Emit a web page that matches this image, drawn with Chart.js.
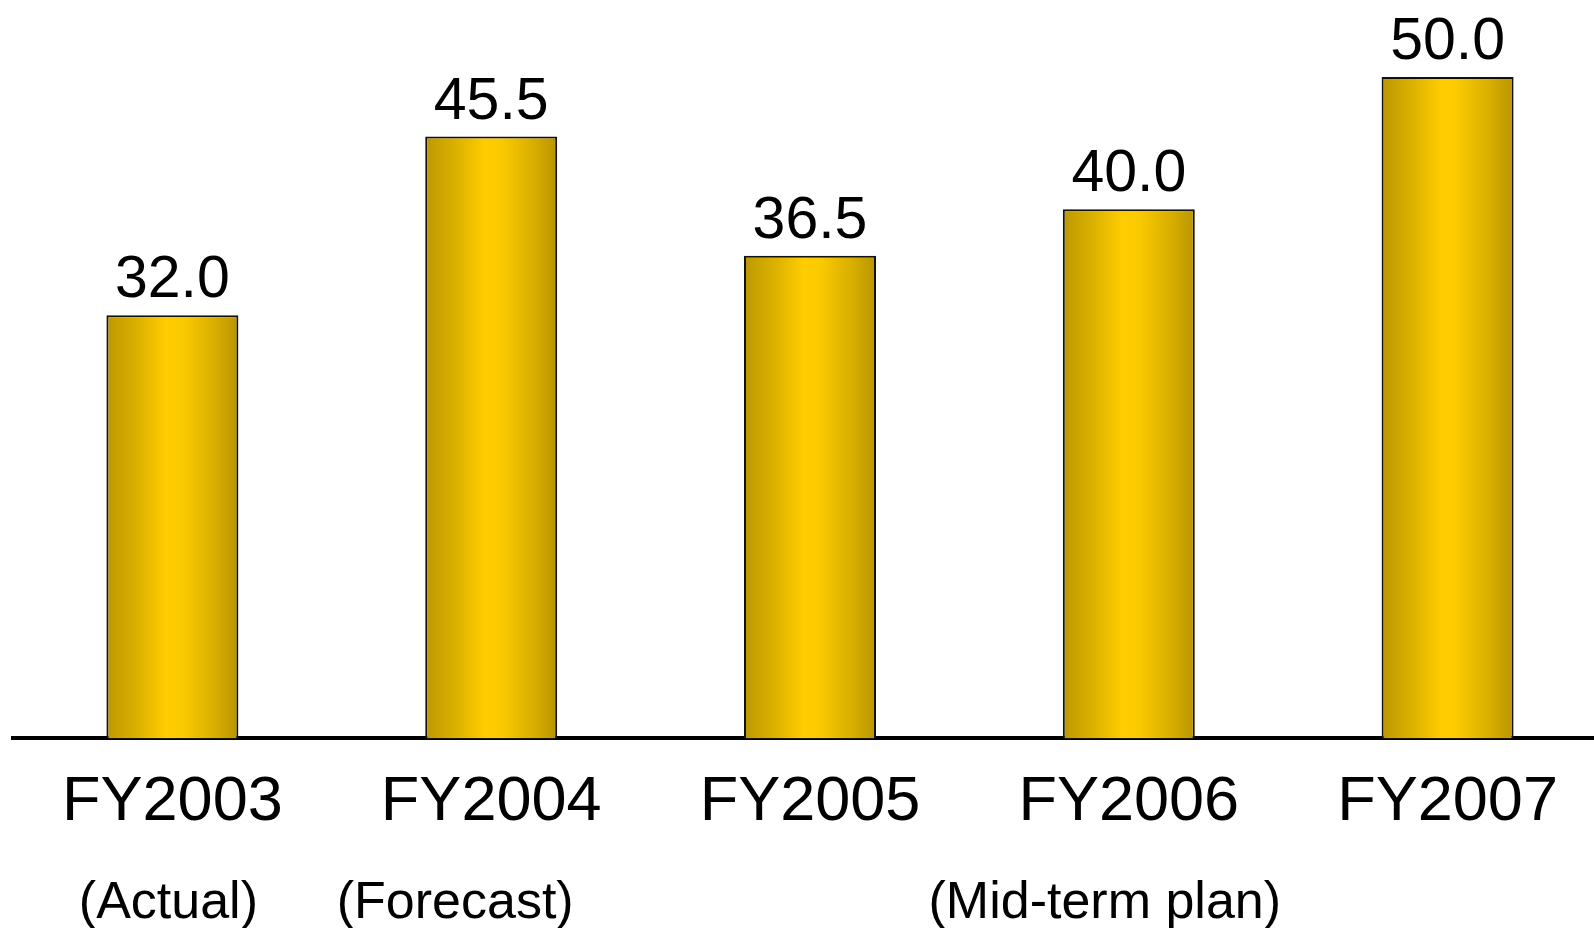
<!DOCTYPE html>
<html>
<head>
<meta charset="utf-8">
<script src="https://cdn.jsdelivr.net/npm/chart.js@4.4.1/dist/chart.umd.min.js"></script>
<style>
  html, body { margin: 0; padding: 0; background: #ffffff; overflow: hidden; }
  #wrap { width: 1594px; height: 928px; overflow: hidden; position: relative; }
  canvas { display: block; }
</style>
</head>
<body>
<div id="wrap"><canvas id="chart" width="1607" height="928"></canvas></div>
<script>
// Fiscal years and values
const years = ['FY2003', 'FY2004', 'FY2005', 'FY2006', 'FY2007'];
const values = [32.0, 45.5, 36.5, 40.0, 50.0];
// Status notes under the year labels
const notes = ['(Actual)', '(Forecast)', '(Mid-term plan)'];

const SANS = '"Liberation Sans", Arial, Helvetica, sans-serif';
const BAR_PCT = 0.414;

// Horizontal gold gradient spanning a bar from left to right edge
function goldGradient(ctx, left, right) {
  if (!isFinite(left) || !isFinite(right) || right <= left) return '#FFCC00';
  const g = ctx.createLinearGradient(left, 0, right, 0);
  g.addColorStop(0.00, '#BC9800');
  g.addColorStop(0.22, '#D9B000');
  g.addColorStop(0.45, '#FFCC00');
  g.addColorStop(0.58, '#FACA00');
  g.addColorStop(0.82, '#D8AE00');
  g.addColorStop(1.00, '#B99500');
  return g;
}

// Per-bar fill (scriptable so each bar keeps its own options)
function barFill(context) {
  const chart = context.chart;
  const x = chart.scales && chart.scales.x;
  if (!x || context.dataIndex === undefined) return '#FFCC00';
  const cx = x.getPixelForValue(context.dataIndex);
  const w = (x.width / years.length) * BAR_PCT;
  return goldGradient(chart.ctx, cx - w / 2, cx + w / 2);
}

// Refresh gradients with the final bar geometry before drawing
const goldBars = {
  id: 'goldBars',
  beforeDatasetsDraw(chart) {
    chart.getDatasetMeta(0).data.forEach(bar => {
      bar.options.backgroundColor = goldGradient(chart.ctx, bar.x - bar.width / 2, bar.x + bar.width / 2);
    });
  }
};

// Value labels above the bars
const valueLabels = {
  id: 'valueLabels',
  afterDatasetsDraw(chart) {
    const ctx = chart.ctx;
    ctx.save();
    ctx.font = '59px ' + SANS;
    ctx.fillStyle = '#000';
    ctx.textAlign = 'center';
    ctx.textBaseline = 'alphabetic';
    chart.getDatasetMeta(0).data.forEach((bar, i) => {
      ctx.fillText(values[i].toFixed(1), bar.x, bar.y - 18);
    });
    ctx.restore();
  }
};

// Second row of notes under the category labels
const noteRow = {
  id: 'noteRow',
  afterDraw(chart) {
    const x = chart.scales.x;
    const ctx = chart.ctx;
    ctx.save();
    ctx.font = '52px ' + SANS;
    ctx.fillStyle = '#000';
    ctx.textAlign = 'center';
    ctx.textBaseline = 'alphabetic';
    const y = 918;
    ctx.fillText(notes[0], x.getPixelForValue(0) - 4, y);
    ctx.fillText(notes[1], x.getPixelForValue(1) - 36, y);
    ctx.fillText(notes[2], x.getPixelForValue(3) - 24, y);
    ctx.restore();
  }
};

new Chart(document.getElementById('chart'), {
  type: 'bar',
  data: {
    labels: years,
    datasets: [{
      data: values,
      backgroundColor: barFill,
      borderColor: '#111111',
      borderWidth: 2,
      borderSkipped: 'bottom',
      barPercentage: BAR_PCT,
      categoryPercentage: 1.0
    }]
  },
  options: {
    responsive: false,
    animation: false,
    devicePixelRatio: 1,
    layout: { padding: { left: 13, right: 0, top: 0, bottom: 62 } },
    plugins: {
      legend: { display: false },
      tooltip: { enabled: false }
    },
    scales: {
      x: {
        grid: { display: false, drawTicks: false, tickLength: 0 },
        border: { display: true, color: '#000000', width: 4 },
        ticks: {
          color: '#000000',
          padding: 26,
          font: { family: SANS, size: 63, lineHeight: 1.2 },
          maxRotation: 0,
          autoSkip: false
        }
      },
      y: {
        display: false,
        min: 0,
        max: 55.83
      }
    }
  },
  plugins: [goldBars, valueLabels, noteRow]
});
</script>
</body>
</html>
